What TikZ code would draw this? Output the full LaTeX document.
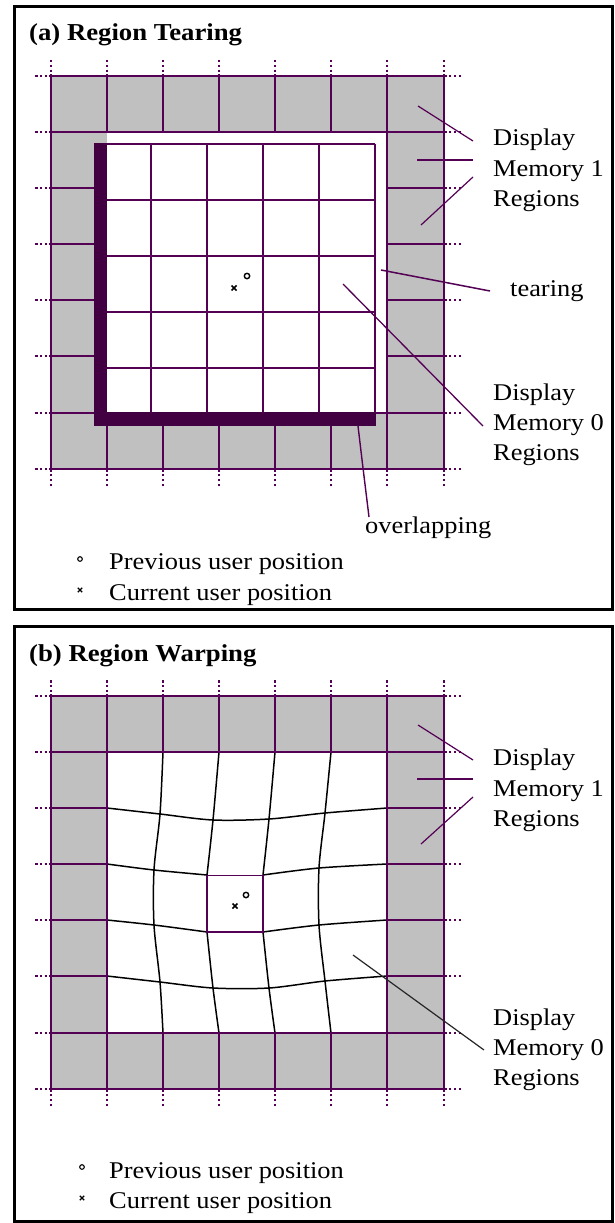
\documentclass[tikz,border=0pt]{standalone}
\usepackage{fontspec}
\setmainfont{Liberation Serif}[FakeStretch=1.1]
\definecolor{gp}{RGB}{84,0,84}
\definecolor{barc}{RGB}{66,0,66}
\definecolor{gr}{RGB}{192,192,192}
\begin{document}
\begin{tikzpicture}[x=1pt,y=-1pt,
  gl/.style={draw=gp,line width=1.6pt},
  tk/.style={draw=gp,line width=1.6pt,dash pattern=on 2.5pt off 2.3pt},
  wl/.style={draw=black,line width=1.5pt,line join=round},
  ld/.style={draw=gp,line width=1.2pt},
  lbl/.style={anchor=base west,inner sep=0pt,font=\fontsize{24}{28}\selectfont},
  ttl/.style={anchor=base west,inner sep=0pt,font=\bfseries\fontsize{24.3}{28}\selectfont},
  frame/.style={draw=black,line width=3pt},
  mk/.style={draw=black,line width=1.4pt}]
\useasboundingbox (0,0) rectangle (614,1223);
\fill[white] (0,0) rectangle (614,1223);

% ================= panel (a) =================
\draw[frame] (14,7) rectangle (612.5,609);
\node[ttl] (ta) at (29,41) {(a) Region Tearing};
\fill[gr] (51,76) rectangle (444,469);
\fill[white] (107,132) rectangle (387,413);
% shifted (torn) grid
\foreach \x in {95,151,207,263,319,375} \draw[gl] (\x,144) -- (\x,425);
\foreach \y in {144,200,256,312,368,425} \draw[gl] (95,\y) -- (375,\y);
% overlapping bar
\fill[barc] (94.2,143.2) rectangle (107,425.8);
\fill[barc] (94.2,412.2) rectangle (376,425.8);
% ring lines
\draw[gl] (51,76) rectangle (444,469);
\draw[gl] (51,132) -- (444,132);
\draw[gl] (387,76) -- (387,469);
\draw[gl] (376,413) -- (444,413);
\draw[gl] (51,413) -- (94.2,413);
\foreach \x in {107,163,219,275,331} {\draw[gl] (\x,76) -- (\x,132); \draw[gl] (\x,425.8) -- (\x,469);}
\foreach \y in {188,244,300,356} {\draw[gl] (51,\y) -- (94.2,\y); \draw[gl] (387,\y) -- (444,\y);}
% ticks
\foreach \x in {51,107,163,219,275,331,387,444} {\draw[tk] (\x,60) -- (\x,76); \draw[tk] (\x,486) -- (\x,469);}
\foreach \y in {76,132,188,244,300,356,413,469} {\draw[tk] (35,\y) -- (51,\y); \draw[tk] (461,\y) -- (444,\y);}
% user markers
\draw[mk] (247,276) circle (2.7pt);
\draw[mk,line width=1.6pt] (231.5,285.5) -- (236.5,290.5) (231.5,290.5) -- (236.5,285.5);
% labels
\node[lbl] (m1a1) at (493,145) {Display};
\node[lbl] (m1a2) at (493,176) {Memory 1};
\node[lbl] (m1a3) at (493,206) {Regions};
\node[lbl] (tear) at (510,296) {tearing};
\node[lbl] (m0a1) at (493,400) {Display};
\node[lbl] (m0a2) at (493,430) {Memory 0};
\node[lbl] (m0a3) at (493,460) {Regions};
\node[lbl] (ovl) at (365,533) {overlapping};
\node[lbl] (pa) at (109,569) {Previous user position};
\node[lbl] (ca) at (109,600) {Current user position};
% leaders
\coordinate (l1s) at (418,106); \coordinate (l1e) at (473,141);
\coordinate (l2s) at (417,160); \coordinate (l2e) at (473,160);
\coordinate (l3s) at (421,225); \coordinate (l3e) at (473,177);
\draw[ld] (l1s) -- (l1e); \draw[ld] (l2s) -- (l2e); \draw[ld] (l3s) -- (l3e);
\coordinate (tgs) at (381,270); \coordinate (tge) at (490,291);
\draw[ld,line width=1.5pt] (tgs) -- (tge);
\coordinate (m0s) at (343,284); \coordinate (m0e) at (483,426);
\draw[ld,line width=1.3pt] (m0s) -- (m0e);
\coordinate (ovs) at (358,426); \coordinate (ovm) at (363,468); \coordinate (ove) at (369,517);
\draw[ld,line width=1.4pt] (ovs) -- (ovm) -- (ove);
% legend markers
\draw[mk,line width=1.1pt] (80,559) circle (2.3pt);
\draw[mk,line width=1.3pt] (77.8,587.8) -- (82.2,592.2) (77.8,592.2) -- (82.2,587.8);

% ================= panel (b) =================
\draw[frame] (14,626) rectangle (612.5,1221.5);
\begin{scope}[shift={(0,620)}]
\node[ttl] (tb) at (29,41) {(b) Region Warping};
\fill[gr] (51,76) rectangle (444,469);
\fill[white] (107,132) rectangle (387,413);
% warped grid (black)
\draw[wl] plot[smooth,tension=0.5] coordinates {(107,188) (160,194) (213,200) (269,199) (325,193) (387,188)};
\draw[wl] plot[smooth,tension=0.5] coordinates {(107,356) (160,362) (213,368) (269,368) (325,361) (387,356)};
\draw[wl] plot[smooth,tension=0.5] coordinates {(107,244) (154,250) (207,255)};
\draw[wl] plot[smooth,tension=0.5] coordinates {(263,255) (319,248) (387,244)};
\draw[wl] plot[smooth,tension=0.5] coordinates {(107,300) (154,305) (207,312)};
\draw[wl] plot[smooth,tension=0.5] coordinates {(263,312) (319,305) (387,300)};
\draw[wl] plot[smooth,tension=0.5] coordinates {(163,132) (160,194) (154,250) (154,305) (160,362) (163,413)};
\draw[wl] plot[smooth,tension=0.5] coordinates {(331,132) (325,193) (319,248) (319,305) (325,361) (331,413)};
\draw[wl] plot[smooth,tension=0.5] coordinates {(219,132) (213,200) (207,255)};
\draw[wl] plot[smooth,tension=0.5] coordinates {(207,312) (213,368) (219,413)};
\draw[wl] plot[smooth,tension=0.5] coordinates {(275,132) (269,199) (263,255)};
\draw[wl] plot[smooth,tension=0.5] coordinates {(263,312) (269,368) (275,413)};
% moved centre cell
\draw[gl,line width=1.3pt] (207,255.5) rectangle (263,312);
% ring lines
\draw[gl] (51,76) rectangle (444,469);
\draw[gl] (51,132) -- (444,132);
\draw[gl] (51,413) -- (444,413);
\draw[gl] (107,76) -- (107,469);
\draw[gl] (387,76) -- (387,469);
\foreach \x in {163,219,275,331} {\draw[gl] (\x,76) -- (\x,132); \draw[gl] (\x,413) -- (\x,469);}
\foreach \y in {188,244,300,356} {\draw[gl] (51,\y) -- (107,\y); \draw[gl] (387,\y) -- (444,\y);}
% ticks
\foreach \x in {51,107,163,219,275,331,387,444} {\draw[tk] (\x,60) -- (\x,76); \draw[tk] (\x,486) -- (\x,469);}
\foreach \y in {76,132,188,244,300,356,413,469} {\draw[tk] (35,\y) -- (51,\y); \draw[tk] (461,\y) -- (444,\y);}
% user markers
\draw[mk] (246,275) circle (2.7pt);
\draw[mk,line width=1.6pt] (232.5,283.5) -- (237.5,288.5) (232.5,288.5) -- (237.5,283.5);
% labels
\node[lbl] (m1b1) at (493,145) {Display};
\node[lbl] (m1b2) at (493,176) {Memory 1};
\node[lbl] (m1b3) at (493,206) {Regions};
\node[lbl] (m0b1) at (493,405) {Display};
\node[lbl] (m0b2) at (493,435) {Memory 0};
\node[lbl] (m0b3) at (493,465) {Regions};
\node[lbl] (pb) at (109,558) {Previous user position};
\node[lbl] (cb) at (109,588) {Current user position};
% leaders
\coordinate (k1s) at (418,105); \coordinate (k1e) at (473,140);
\coordinate (k2s) at (417,159); \coordinate (k2e) at (473,159);
\coordinate (k3s) at (421,224); \coordinate (k3e) at (473,177);
\draw[ld] (k1s) -- (k1e); \draw[ld] (k2s) -- (k2e); \draw[ld] (k3s) -- (k3e);
\coordinate (n0s) at (353,335); \coordinate (n0e) at (484,430);
\draw[draw=black!85,line width=1.2pt] (n0s) -- (n0e);
% legend markers
\draw[mk,line width=1.1pt] (82,547) circle (2.3pt);
\draw[mk,line width=1.3pt] (79.8,575.8) -- (84.2,580.2) (79.8,580.2) -- (84.2,575.8);
\end{scope}
\end{tikzpicture}
\end{document}
